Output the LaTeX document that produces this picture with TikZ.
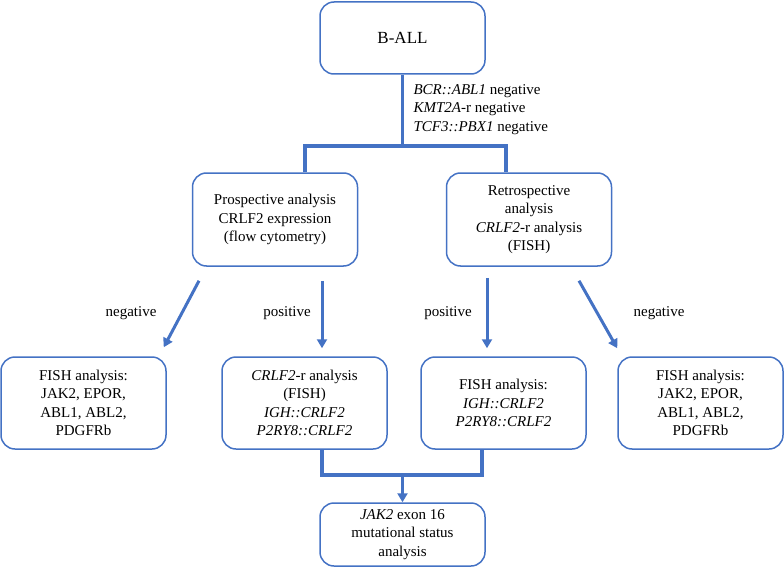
\documentclass[tikz,border=0pt]{standalone}
\usepackage{fontspec}
\setmainfont{Liberation Serif}
\usetikzlibrary{arrows.meta}
\definecolor{flowblue}{HTML}{4472C4}
\tikzset{
	box/.style={draw=flowblue,line width=1.5pt,rounded corners=14pt,align=center,minimum width=165pt,inner sep=2pt,font=\fontsize{15}{18.5}\selectfont},
	link/.style={draw=flowblue,line width=3.5pt},
	arrow/.style={link,line width=3pt,-{Triangle[width=10pt,length=9pt]}},
	lbl/.style={font=\fontsize{15}{18.5}\selectfont}
}
\begin{document}
\begin{tikzpicture}[x=1pt,y=-1pt]
		\useasboundingbox (0,0) rectangle (784,567);
		\node[box,minimum height=72pt,font=\fontsize{17}{20}\selectfont] (ball) at (402.5,38) {B-ALL};
		\node[lbl,align=left,anchor=west] (excl) at (410,109.5) {\textit{BCR::ABL1} negative\\\textit{KMT2A}-r negative\\\textit{TCF3::PBX1} negative};
		\node[box,minimum height=93pt] (pro) at (275,219.5) {Prospective analysis\\CRLF2 expression\\(flow cytometry)};
		\node[box,minimum height=93pt] (retro) at (529,219.5) {Retrospective\\analysis\\\textit{CRLF2}-r analysis\\(FISH)};
		\node[box,minimum height=92pt] (fneg1) at (83.5,403) {FISH analysis:\\JAK2, EPOR,\\ABL1, ABL2,\\PDGFRb};
		\node[box,minimum height=92pt] (crlf) at (304.5,403) {\textit{CRLF2}-r analysis\\(FISH)\\\textit{IGH::CRLF2}\\\textit{P2RY8::CRLF2}};
		\node[box,minimum height=92pt] (fpos) at (503.5,403) {FISH analysis:\\\textit{IGH::CRLF2}\\\textit{P2RY8::CRLF2}};
		\node[box,minimum height=92pt] (fneg2) at (700.5,403) {FISH analysis:\\JAK2, EPOR,\\ABL1, ABL2,\\PDGFRb};
		\node[box,minimum height=63pt] (jak) at (402.5,534.5) {\textit{JAK2} exon 16\\mutational status\\analysis};
		% branch labels
		\node[lbl] (negl) at (131,313) {negative};
		\node[lbl] (posl) at (287,313) {positive};
		\node[lbl] (posr) at (448,313) {positive};
		\node[lbl] (negr) at (659,313) {negative};
		% split below B-ALL
		\coordinate (split) at (402.5,146);
		\coordinate (sl) at (305,146);
		\coordinate (sr) at (506,146);
		\draw[link] (ball.south) -- (split);
		\draw[link] (pro.north -| sl) |- (sr) -- (retro.north -| sr);
		% results
		\draw[arrow] ([shift={(-76,14)}]pro.south) -- ([shift={(-3,-9)}]fneg1.north east);
		\draw[arrow] ([shift={(47,14)}]pro.south) -- ([shift={(17.5,-8)}]crlf.north);
		\draw[arrow] ([shift={(-42,11)}]retro.south) -- ([shift={(-16.5,-8)}]fpos.north);
		\draw[arrow] ([shift={(50,14)}]retro.south) -- ([shift={(0,-8)}]fneg2.north west);
		% merge into JAK2
		\coordinate (merge) at (402.5,475);
		\draw[link] ([xshift=17.5pt]crlf.south) |- (merge) -| ([xshift=-21.5pt]fpos.south);
		\draw[arrow] (merge) -- (jak.north);
	\end{tikzpicture}
\end{document}
